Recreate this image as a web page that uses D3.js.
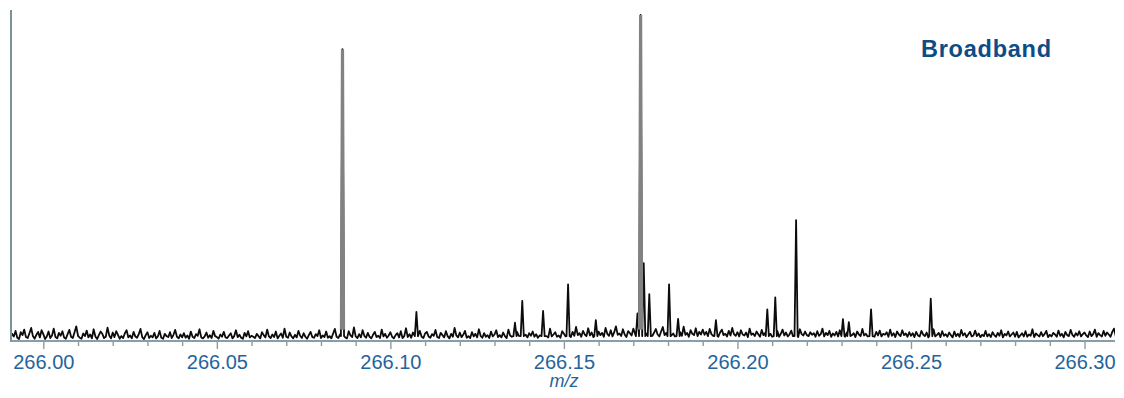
<!DOCTYPE html>
<html>
<head>
<meta charset="utf-8">
<script src="https://cdn.jsdelivr.net/npm/d3@7/dist/d3.min.js"></script>
<style>
  html, body { margin: 0; padding: 0; background: #ffffff; }
  svg { display: block; }
</style>
</head>
<body>
<svg id="chart" width="1124" height="398"></svg>
<script>
// Baseline noise, sampled every 0.0005 m/z starting at 265.9905 (relative intensity, 1000 = base peak)
const noiseStart = 265.9905;
const noiseStep = 0.0005;
const noise = [
  8,22,14,31,10,6,27,18,35,12,9,24,40,15,7,19,28,11,33,21,
  6,14,29,9,17,38,12,8,25,16,30,11,7,21,34,13,9,27,45,16,
  10,7,23,15,32,11,20,8,36,14,6,18,29,22,9,13,41,17,8,26,
  12,30,19,7,15,9,24,33,11,17,8,28,14,10,21,37,12,6,18,27,
  9,16,11,25,8,14,31,10,7,22,15,12,27,9,19,34,13,8,20,11,
  24,10,17,7,29,13,9,21,16,36,11,8,14,26,10,18,9,31,15,12,
  7,20,13,28,11,9,17,24,8,15,33,12,19,10,7,25,14,30,11,16,
  13,9,22,15,8,27,18,11,35,14,9,20,12,29,8,16,23,10,38,13,
  10,26,14,8,19,11,31,16,9,24,13,7,18,28,12,10,21,15,33,9,
  17,12,29,10,15,8,23,37,13,9,20,14,26,11,8,30,17,12,42,14,
  9,21,11,33,16,10,25,13,8,19,28,12,16,9,35,14,22,10,17,27,
  13,8,18,24,11,30,9,15,39,12,21,10,26,14,8,19,31,13,9,23,
  28,14,10,21,16,34,12,9,25,18,11,30,15,8,22,13,40,17,11,26,
  12,19,31,10,15,9,27,14,22,11,36,16,10,24,13,18,9,29,14,20,
  33,12,18,11,26,15,9,35,17,13,22,10,28,16,12,41,14,19,11,24,
  16,29,13,21,10,17,32,12,25,15,11,38,14,20,27,13,17,10,30,22,
  14,36,19,12,28,16,43,18,24,13,31,20,15,39,17,26,12,34,21,29,
  18,25,13,40,22,16,33,14,27,45,19,23,15,36,20,12,30,24,17,38,
  22,15,34,19,28,13,41,24,18,31,16,26,37,20,14,29,43,18,25,16,
  32,17,23,14,36,21,27,16,44,19,25,13,33,22,18,39,15,28,20,35,
  19,28,15,37,21,16,30,24,13,26,35,18,22,14,31,17,40,21,16,27,
  14,33,20,17,26,12,38,19,23,15,29,21,13,34,18,25,16,30,22,13,
  24,16,31,13,22,35,17,26,14,20,32,15,27,19,12,36,21,17,29,18,
  15,27,19,24,13,30,16,21,38,14,25,18,31,13,23,17,28,14,33,20,
  21,13,26,16,34,18,24,12,29,20,15,37,17,22,14,31,19,26,13,28,
  17,32,14,22,19,27,13,35,16,24,12,29,20,15,33,18,23,13,27,16,
  24,12,28,17,14,31,20,15,26,11,22,18,36,14,19,25,12,30,16,21,
  13,26,18,11,29,15,22,13,34,17,24,12,20,28,14,17,32,15,23,12,
  19,15,31,14,21,12,27,18,13,25,16,33,11,22,17,29,14,20,26,13,
  28,11,17,24,14,30,13,20,16,36,12,23,18,14,27,15,21,31,12,19,
  14,25,20,13,32,16,22,11,28,18,15,34,19,13,24,17,30,14,21,26,
  17,12,29,15,21,35,13,24,18,14,31,16,26,20,13,28,38,15,22,30
];

// Resolved peaks: centroid m/z and apex intensity
const peakMz = [
  266.0862, 266.1075, 266.1359, 266.1380, 266.1440, 266.1512, 266.1592,
  266.1712, 266.1721, 266.1730, 266.1746, 266.1803, 266.1829, 266.1938,
  266.2086, 266.2109, 266.2169, 266.2304, 266.2321, 266.2385, 266.2557
];
const peakHeight = [
  895, 89, 56, 123, 92, 174, 64,
  85, 1000, 239, 144, 174, 68, 64,
  97, 134, 371, 67, 58, 97, 130
];

// Axis ticks
const majorTicks = [266.00, 266.05, 266.10, 266.15, 266.20, 266.25, 266.30];
const minorTicks = [
  266.01, 266.02, 266.03, 266.04, 266.06, 266.07, 266.08, 266.09,
  266.11, 266.12, 266.13, 266.14, 266.16, 266.17, 266.18, 266.19,
  266.21, 266.22, 266.23, 266.24, 266.26, 266.27, 266.28, 266.29
];
const xTitle = "m/z";
const panelTitle = "Broadband";

// ---- layout ----
const plot = { left: 10, right: 1114, top: 10, bottom: 341 };
const x = d3.scaleLinear().domain([265.9904, 266.3085]).range([plot.left, plot.right]);
const y = d3.scaleLinear().domain([0, 1000]).range([plot.bottom, 15]);

const svg = d3.select("#chart");

// Build the profile: noise samples plus a narrow triangle for every peak
const halfWidth = 0.00045;
const baseLevel = 15;
const points = [];
noise.forEach((v, i) => {
  const mz = noiseStart + i * noiseStep;
  const nearPeak = peakMz.some(p => Math.abs(mz - p) < halfWidth * 1.2);
  if (!nearPeak) points.push([mz, v]);
});
peakMz.forEach((p, i) => {
  points.push([p - halfWidth, baseLevel]);
  points.push([p, peakHeight[i]]);
  points.push([p + halfWidth, baseLevel]);
});
points.sort((a, b) => a[0] - b[0]);

svg.append("clipPath").attr("id", "plotClip")
  .append("rect")
  .attr("x", plot.left + 1).attr("y", 0)
  .attr("width", plot.right - plot.left).attr("height", plot.bottom);

const line = d3.line().x(d => x(d[0])).y(d => y(d[1]));

const g = svg.append("g").attr("clip-path", "url(#plotClip)");

g.append("path")
  .datum(points)
  .attr("d", line)
  .attr("fill", "none")
  .attr("stroke", "#0c0c0c")
  .attr("stroke-width", 1.8)
  .attr("stroke-linejoin", "round");

// Intense peaks are rendered as broader grey bands
const bigPeaks = peakMz.map((p, i) => [p, peakHeight[i]]).filter(d => d[1] > 500);
g.selectAll("path.big")
  .data(bigPeaks)
  .join("path")
  .attr("class", "big")
  .attr("d", d => line([[d[0] - 0.0003, baseLevel + 20], [d[0], d[1]], [d[0] + 0.0003, baseLevel + 20]]))
  .attr("fill", "#8a8a8a")
  .attr("stroke", "#828282")
  .attr("stroke-width", 3.2)
  .attr("stroke-linejoin", "bevel");

// ---- axes ----
const axisColor = "#8a9ca6";
const labelColor = "#24649c";

const xAxis = svg.append("g")
  .attr("transform", `translate(0,${plot.bottom})`)
  .call(d3.axisBottom(x).tickValues(majorTicks).tickFormat(d3.format(".2f"))
    .tickSize(8).tickSizeOuter(0).tickPadding(6));
xAxis.select(".domain").remove();
xAxis.selectAll(".tick line").attr("stroke", axisColor).attr("stroke-width", 1.4);
xAxis.selectAll(".tick text")
  .attr("fill", labelColor)
  .style("font-family", "'Liberation Sans', Arial, sans-serif")
  .style("font-size", "20px");

svg.append("g")
  .attr("transform", `translate(0,${plot.bottom})`)
  .call(d3.axisBottom(x).tickValues(minorTicks).tickFormat("").tickSize(5).tickSizeOuter(0))
  .call(a => a.select(".domain").remove())
  .selectAll(".tick line").attr("stroke", axisColor).attr("stroke-width", 1.4);

// axis lines
svg.append("line")
  .attr("x1", plot.left).attr("x2", plot.right + 1)
  .attr("y1", plot.bottom).attr("y2", plot.bottom)
  .attr("stroke", axisColor).attr("stroke-width", 2);
svg.append("line")
  .attr("x1", plot.left + 1).attr("x2", plot.left + 1)
  .attr("y1", plot.top).attr("y2", plot.bottom)
  .attr("stroke", "#7d9199").attr("stroke-width", 2);

// axis title
svg.append("text")
  .attr("x", (plot.left + plot.right) / 2 + 2)
  .attr("y", 387)
  .attr("text-anchor", "middle")
  .attr("fill", labelColor)
  .style("font-family", "'Liberation Sans', Arial, sans-serif")
  .style("font-style", "italic")
  .style("font-size", "18px")
  .text(xTitle);

// panel title
svg.append("text")
  .attr("x", 921)
  .attr("y", 57)
  .attr("fill", "#0d4c86")
  .attr("textLength", 130)
  .attr("lengthAdjust", "spacing")
  .style("font-family", "'Liberation Sans', Arial, sans-serif")
  .style("font-weight", "bold")
  .style("font-size", "23.5px")
  .text(panelTitle);
</script>
</body>
</html>
